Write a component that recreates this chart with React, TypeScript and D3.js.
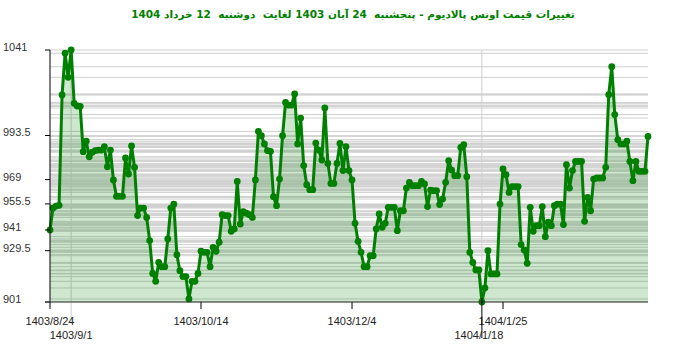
import React from "react";
import * as d3 from "d3";

// daily ounce price, 1403/8/24 .. 1404/3/12
const prices = [
  941, 953.2, 954.3, 954.7, 1016, 1039.2, 1025.8, 1041, 1011.4, 1009.9,
  1009.7, 984.5, 990.3, 981.7, 984.2, 985.1, 985.4, 985.4, 987.3, 976.2,
  985.4, 968.8, 959.7, 959.7, 959.7, 981, 972.1, 987.7, 975.8, 949,
  953.2, 953.2, 948, 935.1, 916.9, 912.5, 923, 920.6, 920.6, 936,
  953.2, 955.3, 927.3, 918.4, 915.1, 915.1, 902.7, 912.5, 912.5, 916.9,
  929.2, 928.6, 928.6, 920.6, 931.4, 929.2, 934.2, 949.5, 949, 949,
  940.3, 941.6, 968, 944.3, 951.2, 950.3, 949.5, 948, 968.8, 995.8,
  993.4, 988.8, 985.1, 984.7, 959.5, 954.5, 969.3, 993.4, 1011.9, 1010.4,
  1010.4, 1016.6, 988.8, 1003.2, 976.8, 966.2, 963.4, 963.4, 989.3, 985.4,
  979.9, 1008.8, 978, 966.9, 966.9, 978, 989.1, 974, 987.3, 974,
  968.8, 944.7, 934.7, 928.6, 920.6, 920.6, 926.7, 926.7, 941.6, 949.9,
  942.5, 944.7, 953.6, 953.6, 953.6, 940.6, 951.7, 951.7, 964.3, 967.5,
  965.6, 965.6, 965.6, 968, 966.6, 954, 963.2, 962.8, 962.8, 955.1,
  958.2, 967.5, 979.5, 974.3, 971.2, 971.2, 986.9, 988.4, 970.6, 928.6,
  923, 918.8, 918.8, 901, 908.8, 929.5, 916.6, 916.6, 916.6, 955.4,
  974.9, 971.7, 961.9, 965.1, 965.1, 965.1, 932.9, 929.9, 922.5, 953.6,
  940.3, 943.4, 943.4, 954, 937.3, 945.3, 943.4, 954.5, 955.4, 955.4,
  944, 977.3, 964.3, 974, 979.1, 979.1, 979.1, 945.8, 959.1, 951.7,
  969.3, 969.9, 969.9, 969.9, 975.8, 1016.2, 1031.7, 1005.1, 991.2, 988.8,
  988.8, 990.3, 979.1, 968.4, 979.1, 973.6, 973.6, 973.6, 993,
];

const tickIndex = [0, 50, 100, 150];
const tickLabels = ["1403/8/24", "1403/10/14", "1403/12/4", "1404/1/25"];
const markIndex = [7, 143];
const markLabels = ["1403/9/1", "1404/1/18"];
const yTicks = [1041, 993.5, 969, 955.5, 941, 929.5, 901];
const title =
  "تغییرات قیمت اونس پالادیوم - پنجشنبه  24 آبان 1403 لغایت  دوشنبه  12 خرداد 1404";

const width = 700;
const height = 352;
const margin = { top: 50, right: 48, bottom: 50, left: 50 };
const color = "#008000";

export default function App() {
  const x = d3
    .scaleLinear()
    .domain([0, 198])
    .range([margin.left, 648]);
  const y = d3
    .scaleLinear()
    .domain([901, 1041])
    .range([height - margin.bottom, margin.top]);
  const right = width - margin.right - 4;
  const bottom = y(901);

  const area = d3
    .area<number>()
    .x((d, i) => x(i))
    .y0(bottom)
    .y1((d) => y(d));
  const line = d3
    .line<number>()
    .x((d, i) => x(i))
    .y((d) => y(d));

  const levels = Array.from(new Set(prices));

  return (
    <svg
      width={width}
      height={height}
      style={{ position: "absolute", left: 0, top: 0, background: "#fff" }}
      fontFamily="Arial, 'Liberation Sans', sans-serif"
    >
      <text
        x={353}
        y={18}
        textAnchor="middle"
        fill={color}
        fontWeight="bold"
        fontSize={10.5}
        fontFamily="'DejaVu Sans', Arial, sans-serif"
        direction="rtl"
        style={{ whiteSpace: "pre" }}
      >
        {title}
      </text>

      {/* a grid line for every price level */}
      {levels.map((v, i) => (
        <line
          key={"g" + i}
          x1={margin.left}
          x2={right}
          y1={y(v)}
          y2={y(v)}
          stroke="#cfcfcf"
          strokeWidth={1}
        />
      ))}
      {markIndex.map((m, i) => (
        <line
          key={"m" + i}
          x1={x(m)}
          x2={x(m)}
          y1={margin.top}
          y2={i === 0 ? 324 : bottom}
          stroke="#cfcfcf"
        />
      ))}

      <path d={area(prices) || ""} fill={color} fillOpacity={0.19} />
      <path
        d={line(prices) || ""}
        fill="none"
        stroke={color}
        strokeWidth={3}
        strokeLinejoin="round"
      />
      {prices.map((v, i) => (
        <circle key={"p" + i} cx={x(i)} cy={y(v)} r={3.4} fill={color} />
      ))}

      {/* y axis */}
      <line x1={margin.left} x2={margin.left} y1={margin.top} y2={bottom} stroke="#000" />
      {yTicks.map((t) => (
        <g key={"y" + t}>
          <line x1={margin.left - 5} x2={margin.left} y1={y(t)} y2={y(t)} stroke="#000" />
          <text x={3} y={y(t) - 2} dominantBaseline="middle" fontSize={11} fill="#333">
            {t}
          </text>
        </g>
      ))}

      {/* x axis */}
      <line x1={margin.left - 5} x2={right} y1={bottom} y2={bottom} stroke="#333" />
      {tickIndex.map((t, i) => (
        <g key={"x" + t}>
          <line x1={x(t)} x2={x(t)} y1={bottom} y2={bottom + 7} stroke="#000" />
          <text x={x(t)} y={325} textAnchor="middle" fontSize={11} fill="#222">
            {tickLabels[i]}
          </text>
        </g>
      ))}
      <line x1={x(markIndex[1])} x2={x(markIndex[1])} y1={bottom - 4} y2={338} stroke="#000" />
      {markIndex.map((m, i) => (
        <text key={"ml" + i} x={x(m) - (i === 0 ? 0 : 3)} y={339} textAnchor="middle" fontSize={11} fill="#222">
          {markLabels[i]}
        </text>
      ))}
    </svg>
  );
}
